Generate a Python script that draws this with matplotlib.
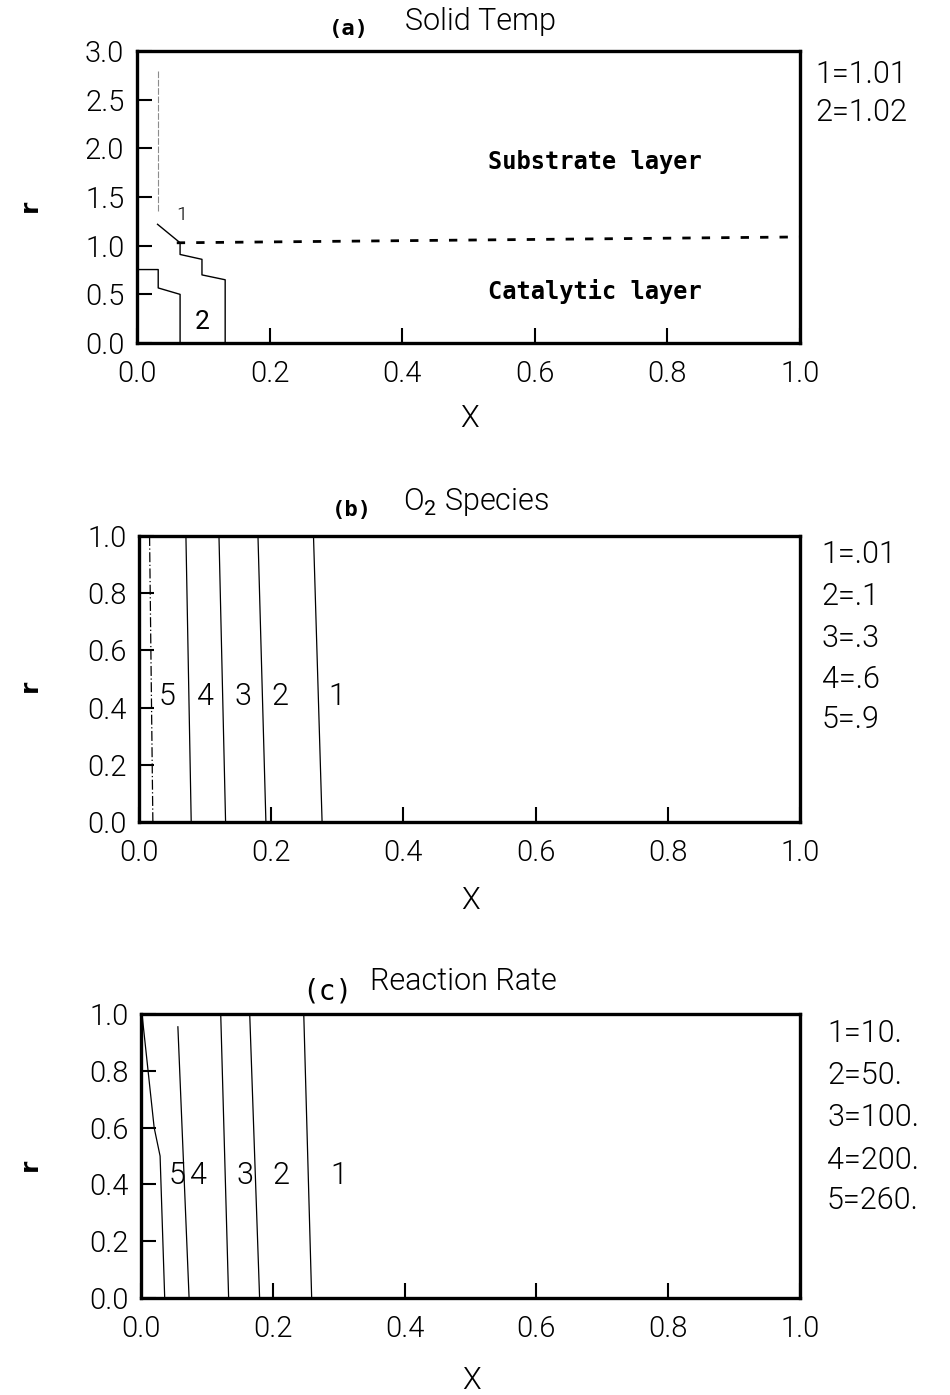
import matplotlib
matplotlib.use("Agg")
import matplotlib.pyplot as plt

plt.rcParams["mathtext.fontset"] = "custom"
plt.rcParams["mathtext.rm"] = "Roboto"

# ---- panel (a) solid temperature ----
a_xticks = [0.0, 0.2, 0.4, 0.6, 0.8, 1.0]
a_yticks = [0.0, 0.5, 1.0, 1.5, 2.0, 2.5, 3.0]
a_c1_top_x = [0.031, 0.031]
a_c1_top_r = [2.79, 1.35]
a_c1_x = [0.031, 0.065, 0.065, 0.098, 0.098, 0.133, 0.133]
a_c1_r = [1.22, 1.03, 0.91, 0.86, 0.70, 0.65, 0.0]
a_c2_x = [0.0, 0.032, 0.032, 0.065, 0.065]
a_c2_r = [0.755, 0.755, 0.566, 0.50, 0.0]
a_iface_x = [0.06, 1.0]
a_iface_r = [1.03, 1.09]
a_legend = ["1=1.01", "2=1.02"]

# ---- panel (b) O2 species ----
b_ticks_y = [0.0, 0.2, 0.4, 0.6, 0.8, 1.0]
b_names = ["1", "2", "3", "4", "5"]
b_x_top = [0.264, 0.180, 0.121, 0.071, 0.016]
b_x_bot = [0.277, 0.192, 0.131, 0.079, 0.021]
b_lab_x = [0.300, 0.213, 0.158, 0.100, 0.042]
b_lab_r = 0.44
b_legend = ["1=.01", "2=.1", "3=.3", "4=.6", "5=.9"]

# ---- panel (c) reaction rate ----
c_names = ["1", "2", "3", "4"]
c_x_top = [0.247, 0.165, 0.121, 0.056]
c_x_bot = [0.259, 0.180, 0.133, 0.073]
c_r_top = [1.0, 1.0, 1.0, 0.955]
c5_x = [0.002, 0.020, 0.029, 0.036]
c5_r = [0.99, 0.60, 0.50, 0.0]
c_lab_names = ["1", "2", "3", "4", "5"]
c_lab_x = [0.300, 0.213, 0.158, 0.087, 0.054]
c_lab_r = 0.43
c_legend = ["1=10.", "2=50.", "3=100.", "4=200.", "5=260."]

thin = {"family": ["Roboto", "DejaVu Sans"], "weight": 300}
mono = {"family": ["DejaVu Sans Mono"], "weight": "bold"}

fig = plt.figure(figsize=(9.5, 13.95), dpi=100)


def setup(ax, yticks, ymax):
    ax.set_xlim(0, 1)
    ax.set_ylim(0, ymax)
    ax.set_xticks(a_xticks)
    ax.set_yticks(yticks)
    ax.set_xticklabels(["%.1f" % v for v in a_xticks], fontsize=21, **thin)
    ax.set_yticklabels(["%.1f" % v for v in yticks], fontsize=21, **thin)
    ax.tick_params(direction="in", length=11, width=1.5, top=False, right=False)
    ax.tick_params(axis="x", pad=12)
    ax.tick_params(axis="y", pad=9)
    for s in ax.spines.values():
        s.set_linewidth(2.4)


def side_text(ax, items, x, ys):
    for t, y in zip(items, ys):
        ax.text(x, y, t, transform=ax.transAxes, fontsize=22, va="center", ha="left", **thin)


# (a)
ax1 = fig.add_axes([0.1442, 0.7541, 0.6979, 0.2093])
setup(ax1, a_yticks, 3.0)
ax1.plot(a_c1_top_x, a_c1_top_r, color="0.55", lw=0.8, ls=(0, (6, 1.5)))
ax1.plot(a_c1_x, a_c1_r, color="k", lw=1.0)
ax1.plot(a_c2_x, a_c2_r, color="k", lw=1.0)
ax1.plot(a_iface_x, a_iface_r, color="k", lw=2.0, ls=(0, (3, 4)))
ax1.text(0.068, 1.32, "1", fontsize=14, ha="center", va="center", **thin)
ax1.text(0.098, 0.22, "2", fontsize=19, ha="center", va="center", family="Roboto")
ax1.text(0.69, 1.86, "Substrate layer", fontsize=17, ha="center", va="center", **mono)
ax1.text(0.69, 0.53, "Catalytic layer", fontsize=17, ha="center", va="center", **mono)
ax1.text(0.29, 1.055, "(a)", transform=ax1.transAxes, fontsize=16, **mono)
ax1.text(0.404, 1.072, "Solid Temp", transform=ax1.transAxes, fontsize=22, **thin)
ax1.text(0.502, -0.257, "X", transform=ax1.transAxes, fontsize=22, ha="center", va="center", **thin)
ax1.text(-0.161, 0.47, "r", transform=ax1.transAxes, fontsize=18, rotation=90,
         ha="center", va="center", weight="bold")
side_text(ax1, a_legend, 1.023, [0.918, 0.788])

# (b)
ax2 = fig.add_axes([0.1463, 0.4108, 0.6958, 0.2050])
setup(ax2, b_ticks_y, 1.0)
for i in range(len(b_names)):
    ls = (0, (8, 2, 1, 2)) if b_names[i] == "5" else "-"
    ax2.plot([b_x_top[i], b_x_bot[i]], [1.0, 0.0], color="k", lw=0.9, ls=ls)
    ax2.text(b_lab_x[i], b_lab_r, b_names[i], fontsize=22, ha="center", va="center", **thin)
ax2.text(0.292, 1.07, "(b)", transform=ax2.transAxes, fontsize=16, **mono)
ax2.text(0.40, 1.09, r"O$_2$ Species", transform=ax2.transAxes, fontsize=22, **thin)
ax2.text(0.502, -0.273, "X", transform=ax2.transAxes, fontsize=22, ha="center", va="center", **thin)
ax2.text(-0.165, 0.476, "r", transform=ax2.transAxes, fontsize=18, rotation=90,
         ha="center", va="center", weight="bold")
side_text(ax2, b_legend, 1.033, [0.934, 0.787, 0.643, 0.497, 0.357])

# (c)
ax3 = fig.add_axes([0.1484, 0.0695, 0.6937, 0.2036])
setup(ax3, b_ticks_y, 1.0)
for i in range(len(c_names)):
    ax3.plot([c_x_top[i], c_x_bot[i]], [c_r_top[i], 0.0], color="k", lw=0.9)
ax3.plot(c5_x, c5_r, color="k", lw=0.9)
for n, x in zip(c_lab_names, c_lab_x):
    ax3.text(x, c_lab_r, n, fontsize=22, ha="center", va="center", **thin)
ax3.text(0.245, 1.05, "(c)", transform=ax3.transAxes, fontsize=20,
         family="DejaVu Sans Mono")
ax3.text(0.348, 1.085, "Reaction Rate", transform=ax3.transAxes, fontsize=22, **thin)
ax3.text(0.502, -0.289, "X", transform=ax3.transAxes, fontsize=22, ha="center", va="center", **thin)
ax3.text(-0.168, 0.468, "r", transform=ax3.transAxes, fontsize=18, rotation=90,
         ha="center", va="center", weight="bold")
side_text(ax3, c_legend, 1.041, [0.933, 0.785, 0.634, 0.486, 0.345])

fig.savefig("out.png", dpi=100)
